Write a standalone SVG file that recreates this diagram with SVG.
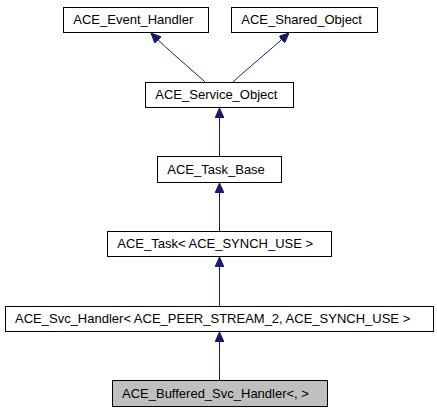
<svg xmlns="http://www.w3.org/2000/svg" width="437" height="411" viewBox="0 0 437 411">
<style>
.box{fill:#ffffff;stroke:#000000;stroke-width:1}
.cur{fill:#bfbfbf;stroke:#000000;stroke-width:1}
.lbl{font-family:"Liberation Sans",Arial,sans-serif;font-size:13px;fill:#000000}
.edge{fill:none;stroke:#191970;stroke-width:1}
</style>
<defs>
<marker id="ah" viewBox="0 0 10 9" refX="10" refY="4.5" markerWidth="10" markerHeight="9" markerUnits="userSpaceOnUse" orient="auto">
<path d="M0,0 L10,4.5 L0,9 Z" fill="#191970" stroke="#191970" stroke-width="1"/>
</marker>
</defs>
<rect width="437" height="411" fill="#ffffff"/>
<g id="edges">
<path class="edge" d="M205,82 C190,68 170,52 151,33" marker-end="url(#ah)"/>
<path class="edge" d="M233,82 C248,68 268,52 289,33" marker-end="url(#ah)"/>
<path class="edge" d="M219.5,156 L219.5,108" marker-end="url(#ah)"/>
<path class="edge" d="M219.5,231 L219.5,183" marker-end="url(#ah)"/>
<path class="edge" d="M219.5,306 L219.5,257" marker-end="url(#ah)"/>
<path class="edge" d="M219.5,380 L219.5,332" marker-end="url(#ah)"/>
</g>
<g id="ACE_Event_Handler">
<rect class="box" x="63.5" y="7.5" width="145" height="25"/>
<text class="lbl" x="73.3" y="24.3">ACE_Event_Handler</text>
</g>
<g id="ACE_Shared_Object">
<rect class="box" x="231.5" y="7.5" width="146" height="25"/>
<text class="lbl" x="241.3" y="24.3">ACE_Shared_Object</text>
</g>
<g id="ACE_Service_Object">
<rect class="box" x="145.5" y="82.5" width="148" height="25"/>
<text class="lbl" x="155.3" y="99.3">ACE_Service_Object</text>
</g>
<g id="ACE_Task_Base">
<rect class="box" x="157.5" y="156.5" width="124" height="26"/>
<text class="lbl" x="167.3" y="174">ACE_Task_Base</text>
</g>
<g id="ACE_Task">
<rect class="box" x="107.5" y="231.5" width="224" height="25"/>
<text class="lbl" x="117.3" y="248.3">ACE_Task&lt; ACE_SYNCH_USE &gt;</text>
</g>
<g id="ACE_Svc_Handler">
<rect class="box" x="5.5" y="306.5" width="428" height="25"/>
<text class="lbl" x="15" y="323.3">ACE_Svc_Handler&lt; ACE_PEER_STREAM_2, ACE_SYNCH_USE &gt;</text>
</g>
<g id="ACE_Buffered_Svc_Handler">
<rect class="cur" x="112.5" y="380.5" width="215" height="26"/>
<text class="lbl" x="122" y="398">ACE_Buffered_Svc_Handler&lt;, &gt;</text>
</g>
</svg>
